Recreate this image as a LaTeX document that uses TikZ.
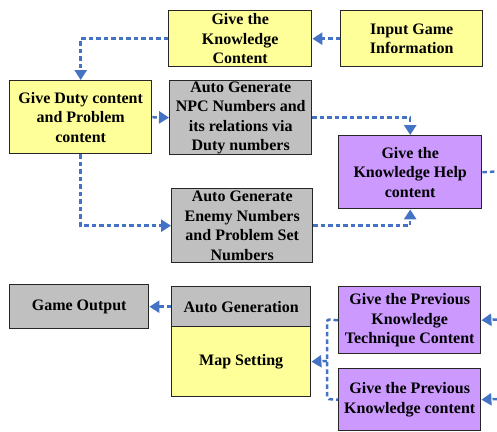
\documentclass[tikz,border=0pt]{standalone}
\usepackage{fontspec}
\setmainfont{Liberation Serif}
\usetikzlibrary{arrows.meta}
\definecolor{boxyellow}{HTML}{FFFF99}
\definecolor{boxgray}{HTML}{C0C0C0}
\definecolor{boxpurple}{HTML}{CC99FF}
\definecolor{flowblue}{HTML}{4472C4}
\tikzset{
  box/.style={draw=black!85, line width=1.4pt, anchor=north west, align=center,
    inner sep=0pt, font=\fontsize{16}{19.5}\selectfont\bfseries},
  ybox/.style={box, fill=boxyellow},
  gbox/.style={box, fill=boxgray},
  pbox/.style={box, fill=boxpurple},
  flow/.style={draw=flowblue, line width=2.5pt, dash pattern=on 4.5pt off 3pt},
  arr/.style={flow, -{Triangle[length=10pt,width=12pt]}},
}
\begin{document}
\begin{tikzpicture}[x=1pt,y=-1pt]
\useasboundingbox (0,0) rectangle (497,431);
% boxes
\node[ybox, minimum width=143pt, minimum height=56pt] (know) at (168,10) {Give the\\Knowledge\\Content};
\node[ybox, minimum width=142pt, minimum height=56pt] (input) at (340,10) {Input Game\\Information};
\node[ybox, minimum width=142pt, minimum height=73pt] (duty) at (9,80) {Give Duty content\\and Problem\\content};
\node[gbox, minimum width=142pt, minimum height=74pt] (npc) at (169,80) {Auto Generate\\NPC Numbers and\\its relations via\\Duty numbers};
\node[pbox, minimum width=143pt, minimum height=73pt] (help) at (338,135) {Give the\\Knowledge Help\\content};
\node[gbox, minimum width=141pt, minimum height=74pt] (enemy) at (171,188) {Auto Generate\\Enemy Numbers\\and Problem Set\\Numbers};
\node[gbox, minimum width=139pt, minimum height=44pt] (output) at (9,284) {Game Output};
\node[gbox, minimum width=139pt, minimum height=40pt] (autogen) at (171,286) {Auto Generation};
\node[ybox, minimum width=139pt, minimum height=70pt] (map) at (171,326) {Map Setting};
\node[pbox, minimum width=142pt, minimum height=67pt] (prevtech) at (338,286) {Give the Previous\\Knowledge\\Technique Content};
\node[pbox, minimum width=142pt, minimum height=62pt] (prevk) at (338,368) {Give the Previous\\Knowledge content};
% free ends at the right margin and the joining bracket
\coordinate (helpout) at (497,171.5);
\coordinate (techin) at (497,319.5);
\coordinate (previn) at (497,399);
\coordinate (brtop) at (327,319.5);
\coordinate (brbot) at (327,399);
\coordinate (brmid) at (327,361);
% connectors
\draw[arr] (input.west) -- (know.east);
\draw[arr] (know.west) -| (duty.north);
\draw[arr] (duty.east) -- (npc.west);
\draw[arr] (npc.east) -| (help.north);
\draw[arr] (duty.south) |- (enemy.west);
\draw[arr] (enemy.east) -| (help.south);
\draw[flow] (help.east) -- (helpout);
\draw[arr] (techin) -- (prevtech.east);
\draw[arr] (previn) -- (prevk.east);
\draw[flow, rounded corners=2pt] (prevtech.west) -- (brtop) -- (brbot) -- (prevk.west);
\draw[arr] (brmid) -- (map.east);
\draw[arr] (autogen.west) -- (output.east);
\end{tikzpicture}
\end{document}
